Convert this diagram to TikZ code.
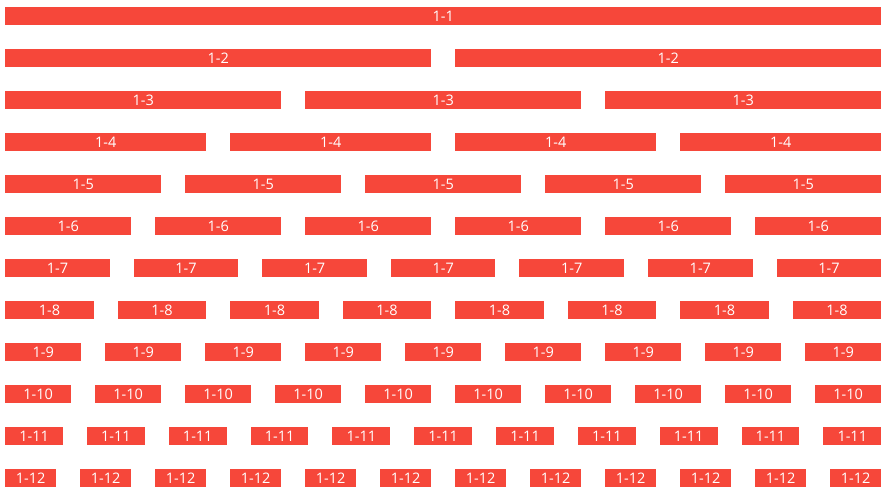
\documentclass[tikz,border=0pt]{standalone}
\usepackage{fontspec}
\setmainfont{Open Sans}
\definecolor{barred}{HTML}{F6473A}
\begin{document}
\begin{tikzpicture}[x=1pt,y=1pt,
  cell/.style={rectangle, fill=barred, draw=none, inner sep=0pt, anchor=north west,
    minimum height=18pt, text=white, font=\fontsize{14.5}{15}\selectfont}]
\useasboundingbox (0,0) rectangle (891,-497);
\foreach \n in {1,...,12}{
  \pgfmathsetmacro{\w}{900/\n-24}
  \pgfmathsetmacro{\yy}{-7-42*(\n-1)}
  \foreach \k in {1,...,\n}{
    \pgfmathsetmacro{\xx}{5+(\k-1)*900/\n}
    \node[cell, minimum width=\w pt] (b-\n-\k) at (\xx,\yy) {1-\n};
  }
}
\end{tikzpicture}
\end{document}
